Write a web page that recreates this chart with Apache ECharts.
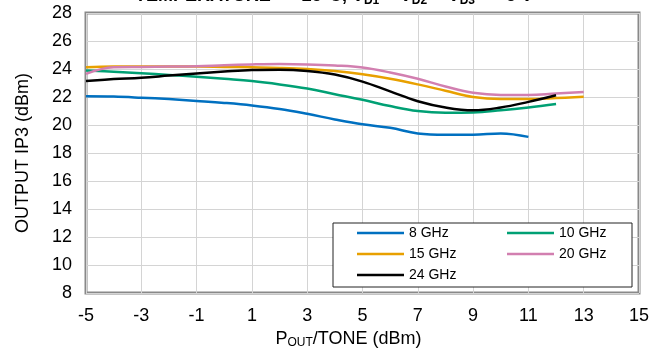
<!DOCTYPE html>
<html>
<head>
<meta charset="utf-8">
<script src="https://cdn.jsdelivr.net/npm/echarts@6/dist/echarts.min.js"></script>
<style>
  html, body { margin: 0; padding: 0; background: #fff; }
  #chart { width: 650px; height: 348px; }
</style>
</head>
<body>
<div id="chart"></div>
<script>
// values
var seriesNames = ["8 GHz", "10 GHz", "15 GHz", "20 GHz", "24 GHz"];
var seriesColors = ["#0070C0", "#00A074", "#E8A000", "#D27FB0", "#000000"];

var x8 = [-5, -4, -3, -2, -1, 0, 1, 2, 3, 4, 5, 6, 7, 8, 9, 10, 11];
var y8 = [22.05, 22.03, 21.95, 21.85, 21.72, 21.58, 21.4, 21.15, 20.8, 20.4, 20.05, 19.8, 19.4, 19.3, 19.3, 19.4, 19.15];

var x10 = [-5, -4, -3, -2, -1, 0, 1, 2, 3, 4, 5, 6, 7, 8, 9, 10, 11, 12];
var y10 = [23.9, 23.8, 23.7, 23.58, 23.45, 23.3, 23.14, 22.9, 22.6, 22.2, 21.8, 21.35, 21.0, 20.88, 20.9, 21.05, 21.25, 21.5];

var x15 = [-5, -4, -3, -2, -1, 0, 1, 2, 3, 4, 5, 6, 7, 8, 9, 10, 11, 12, 13];
var y15 = [24.12, 24.17, 24.18, 24.18, 24.18, 24.15, 24.12, 24.08, 24.0, 23.85, 23.62, 23.3, 22.9, 22.45, 22.0, 21.85, 21.85, 21.92, 22.02];

var x20 = [-5, -4, -3, -2, -1, 0, 1, 2, 3, 4, 5, 6, 7, 8, 9, 10, 11, 12, 13];
var y20 = [23.65, 24.12, 24.15, 24.17, 24.2, 24.27, 24.33, 24.36, 24.33, 24.25, 24.1, 23.75, 23.3, 22.75, 22.3, 22.15, 22.15, 22.25, 22.35];

var x24 = [-5, -4, -3, -2, -1, 0, 1, 2, 3, 4, 5, 6, 7, 8, 9, 10, 11, 12];
var y24 = [23.15, 23.28, 23.38, 23.53, 23.68, 23.82, 23.93, 23.95, 23.86, 23.6, 23.1, 22.4, 21.7, 21.25, 21.05, 21.25, 21.65, 22.12];

var xTicks = { min: -5, max: 15, step: 2 };
var yTicks = { min: 8, max: 28, step: 2 };

function pairs(xs, ys) {
    var out = [];
    for (var i = 0; i < xs.length; i++) {
        out.push([xs[i], ys[i]]);
    }
    return out;
}

var allX = [x8, x10, x15, x20, x24];
var allY = [y8, y10, y15, y20, y24];

var series = [];
for (var i = 0; i < seriesNames.length; i++) {
    series.push({
        name: seriesNames[i],
        type: "line",
        data: pairs(allX[i], allY[i]),
        smooth: 0.4,
        symbol: "none",
        lineStyle: { color: seriesColors[i], width: 2.5 },
        itemStyle: { color: seriesColors[i] },
        z: 3
    });
}

var FONT = "Liberation Sans, Arial, sans-serif";

function legendCol(names, left) {
    return {
        data: names,
        orient: "vertical",
        left: left,
        top: 226,
        padding: 0,
        itemWidth: 47,
        itemHeight: 14,
        itemGap: 7,
        icon: "path://M0,6 L47,6 L47,8.5 L0,8.5 Z",
        textStyle: { fontFamily: FONT, fontSize: 14, color: "#000" },
        z: 10
    };
}

var chart = echarts.init(document.getElementById("chart"));
chart.setOption({
    animation: false,
    title: {
        text: "TEMPERATURE = +25°C, V{s|D1} = V{s|D2} = V{s|D3} = +5 V",
        left: 135,
        top: -15,
        padding: 0,
        textStyle: {
            fontFamily: FONT, fontSize: 18, fontWeight: "bold", color: "#000",
            rich: { s: { fontFamily: FONT, fontSize: 12, fontWeight: "bold", verticalAlign: "bottom", padding: [10, 0, 0, 0] } }
        }
    },
    grid: {
        left: 86, right: 11, top: 13, bottom: 55,
        outerBoundsMode: "none",
        containLabel: false,
        show: true, borderColor: "#898989", borderWidth: 3, backgroundColor: "transparent"
    },
    legend: [
        legendCol(["8 GHz", "15 GHz", "24 GHz"], 357),
        legendCol(["10 GHz", "20 GHz"], 507)
    ],
    graphic: [{
        type: "rect",
        shape: { x: 333, y: 223, width: 299, height: 64 },
        style: { fill: "#fff", stroke: "#222", lineWidth: 1 },
        z: 5
    }],
    xAxis: {
        type: "value",
        min: xTicks.min, max: xTicks.max, interval: xTicks.step,
        axisLine: { show: false },
        axisTick: { show: false },
        splitLine: { lineStyle: { color: "#d4d4d4", width: 1 } },
        axisLabel: { fontFamily: FONT, fontSize: 18, color: "#000", margin: 14 },
        name: "P{s|OUT}/TONE (dBm)",
        nameLocation: "middle",
        nameGap: 36,
        nameTextStyle: {
            fontFamily: FONT, fontSize: 18, color: "#000", padding: [0, 28, 0, 0],
            rich: { s: { fontFamily: FONT, fontSize: 12, verticalAlign: "bottom", padding: [8, 0, 0, 0] } }
        }
    },
    yAxis: {
        type: "value",
        min: yTicks.min, max: yTicks.max, interval: yTicks.step,
        axisLine: { show: false },
        axisTick: { show: false },
        splitLine: { lineStyle: { color: "#d4d4d4", width: 1 } },
        axisLabel: { fontFamily: FONT, fontSize: 18, color: "#000", margin: 14 },
        name: "OUTPUT IP3 (dBm)",
        nameLocation: "middle",
        nameGap: 54,
        nameTextStyle: { fontFamily: FONT, fontSize: 18, color: "#000" }
    },
    series: series
});
</script>
</body>
</html>
